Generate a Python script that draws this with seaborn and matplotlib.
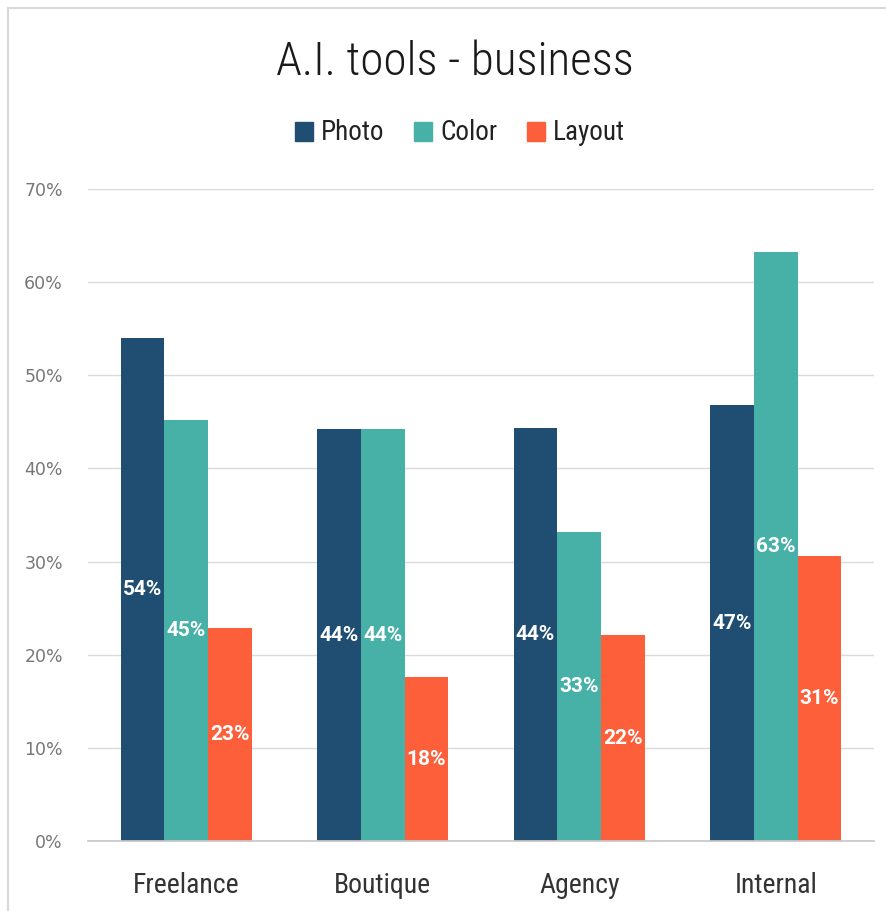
import matplotlib
matplotlib.use("Agg")
import matplotlib.pyplot as plt
from matplotlib.lines import Line2D
from matplotlib.ticker import FuncFormatter, MultipleLocator
import pandas as pd
import seaborn as sns

segments = ["Freelance", "Boutique", "Agency", "Internal"]
tools = ["Photo", "Color", "Layout"]
photo = [0.540, 0.442, 0.443, 0.468]
color = [0.452, 0.442, 0.332, 0.632]
layout = [0.229, 0.176, 0.221, 0.306]
palette = ["#1f4e72", "#47b1a8", "#fd5f3b"]

df = pd.DataFrame({
    "segment": segments * 3,
    "tool": [t for t in tools for _ in segments],
    "share": photo + color + layout,
})

sns.set_theme(style="white")
plt.rcParams["font.family"] = ["Roboto Condensed", "Roboto", "DejaVu Sans"]

fig = plt.figure(figsize=(8.87, 9.11), dpi=100)
ax = fig.add_axes([88 / 887, 70 / 911, 786 / 887, 652 / 911])

sns.barplot(data=df, x="segment", y="share", hue="tool", order=segments,
            hue_order=tools, palette=palette, width=0.667, gap=0,
            saturation=1, errorbar=None, linewidth=0, ax=ax)

ax.set_xlim(-0.5, 3.5)
ax.set_ylim(0, 0.7)
ax.yaxis.set_major_locator(MultipleLocator(0.1))
ax.yaxis.set_major_formatter(FuncFormatter(lambda v, _: f"{v:.0%}"))
ax.grid(axis="y", color="#dadada", linewidth=1)
ax.set_axisbelow(True)
for side in ["top", "right", "left"]:
    ax.spines[side].set_visible(False)
ax.spines["bottom"].set_color("#c8c8c8")
ax.set_xlabel("")
ax.set_ylabel("")
ax.tick_params(axis="y", length=0, pad=18, labelsize=13, labelcolor="#777777")
ax.tick_params(axis="x", length=0, pad=22, labelsize=20, labelcolor="#333333")
for lbl in ax.get_yticklabels():
    lbl.set_family(["DejaVu Sans"])
    lbl.set_fontsize(12.5)

for cont in ax.containers:
    ax.bar_label(cont, fmt=lambda v: f"{v:.0%}", label_type="center",
                 color="white", fontsize=15, fontweight="bold",
                 family=["Roboto", "DejaVu Sans"])

ax.get_legend().remove()
handles = [plt.Rectangle((0, 0), 1, 1, color=c) for c in palette]
fig.legend(handles, tools, loc="center", bbox_to_anchor=(460 / 887, 1 - 133 / 911),
           ncol=3, frameon=False, fontsize=19.5, handlelength=0.65,
           handleheight=0.7, handletextpad=0.3, columnspacing=1.1,
           labelcolor="#222222")

fig.text(455 / 887, 1 - 62 / 911, "A.I. tools - business", ha="center",
         va="center", fontsize=34, fontweight="light", color="#1a1a1a")

border = "#d8d8d8"
fig.add_artist(Line2D([8 / 887, 1], [1 - 8 / 911, 1 - 8 / 911],
                      transform=fig.transFigure, color=border, linewidth=1.5))
fig.add_artist(Line2D([8 / 887, 8 / 887], [0, 1 - 8 / 911],
                      transform=fig.transFigure, color=border, linewidth=1.5))

fig.savefig("out.png", dpi=100, facecolor="white")
